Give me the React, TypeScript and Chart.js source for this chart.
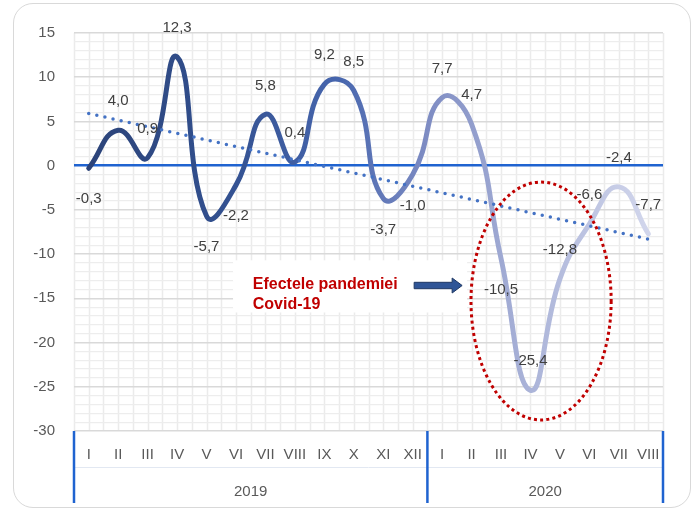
import React, { useEffect, useRef } from "react";
import { Chart, registerables } from "chart.js";

Chart.register(...registerables);

// ---------- data ----------
const months = ["I", "II", "III", "IV", "V", "VI", "VII", "VIII", "IX", "X", "XI", "XII", "I", "II", "III", "IV", "V", "VI", "VII", "VIII"];
const years = ["2019", "2020"];
const monthsPerYear = [12, 8];
const values = [-0.3, 4.0, 0.9, 12.3, -5.7, -2.2, 5.8, 0.4, 9.2, 8.5, -3.7, -1.0, 7.7, 4.7, -10.5, -25.4, -12.8, -6.6, -2.4, -7.7];
const labelBelow = [true, false, false, false, true, true, false, false, false, false, true, true, false, false, true, false, false, false, false, false];
const trendStart = 5.9;
const trendEnd = -8.3;
const yMin = -30;
const yMax = 15;
const yMajorStep = 5;
const calloutLines = ["Efectele pandemiei", "Covid-19"];

// ---------- annotation placement (data coordinates) ----------
const ellipseAnn = { cx: 15.36, cy: -15.3, rx: 2.38, ry: 13.45 };
const boxAnn = { x0: 4.9, x1: 12.85, y0: -10.7, y1: -16.6 };
const textAnn = { x: 5.57, y1: -13.4, y2: -15.7 };
const arrowAnn = { x0: 11.05, x1: 12.68, y: -13.55 };

const fmt = (v: number) => v.toFixed(1).replace(".", ",");
const FONT = "'Liberation Sans', Arial, sans-serif";

const decorPlugin = {
  id: "decor",
  beforeDraw(chart: any) {
    const { ctx, chartArea: a, scales } = chart;
    const x = scales.x;
    ctx.save();
    ctx.strokeStyle = "#EBEBEB";
    ctx.lineWidth = 1.5;
    for (let k = 0; k <= months.length * 2; k++) {
      const px = Math.round(x.getPixelForValue(k / 2 - 0.5)) + 0.5;
      ctx.beginPath();
      ctx.moveTo(px, a.top);
      ctx.lineTo(px, a.bottom);
      ctx.stroke();
    }
    ctx.restore();
  },
  afterDatasetsDraw(chart: any) {
    const { ctx, chartArea: a, scales } = chart;
    const x = scales.x;
    const y = scales.y;
    ctx.save();

    // x-axis separators and year labels
    ctx.strokeStyle = "#E2E8F2";
    ctx.lineWidth = 1;
    ctx.beginPath();
    ctx.moveTo(a.left, 467.5);
    ctx.lineTo(a.right, 467.5);
    ctx.stroke();

    ctx.strokeStyle = "#1F63D0";
    ctx.lineWidth = 2.5;
    let start = 0;
    const bounds = [-0.5];
    monthsPerYear.forEach((n) => {
      start += n;
      bounds.push(start - 0.5);
    });
    bounds.forEach((b) => {
      const px = x.getPixelForValue(b);
      ctx.beginPath();
      ctx.moveTo(px, a.bottom);
      ctx.lineTo(px, a.bottom + 72);
      ctx.stroke();
    });
    ctx.fillStyle = "#595959";
    ctx.font = `15px ${FONT}`;
    ctx.textAlign = "center";
    ctx.textBaseline = "middle";
    years.forEach((yr, i) => {
      const cx = (x.getPixelForValue(bounds[i]) + x.getPixelForValue(bounds[i + 1])) / 2;
      ctx.fillText(yr, cx, a.bottom + 61);
    });

    // callout box
    const bx0 = x.getPixelForValue(boxAnn.x0);
    const bx1 = x.getPixelForValue(boxAnn.x1);
    const by0 = y.getPixelForValue(boxAnn.y0);
    const by1 = y.getPixelForValue(boxAnn.y1);
    ctx.fillStyle = "#FFFFFF";
    ctx.fillRect(bx0, by0, bx1 - bx0, by1 - by0);
    ctx.fillStyle = "#C00000";
    ctx.font = `bold 16px ${FONT}`;
    ctx.textAlign = "left";
    ctx.fillText(calloutLines[0], x.getPixelForValue(textAnn.x), y.getPixelForValue(textAnn.y1));
    ctx.fillText(calloutLines[1], x.getPixelForValue(textAnn.x), y.getPixelForValue(textAnn.y2));

    // arrow
    const ax0 = x.getPixelForValue(arrowAnn.x0);
    const ax1 = x.getPixelForValue(arrowAnn.x1);
    const ay = y.getPixelForValue(arrowAnn.y);
    const head = 10;
    ctx.beginPath();
    ctx.moveTo(ax0, ay - 3.2);
    ctx.lineTo(ax1 - head, ay - 3.2);
    ctx.lineTo(ax1 - head, ay - 7.5);
    ctx.lineTo(ax1, ay);
    ctx.lineTo(ax1 - head, ay + 7.5);
    ctx.lineTo(ax1 - head, ay + 3.2);
    ctx.lineTo(ax0, ay + 3.2);
    ctx.closePath();
    ctx.fillStyle = "#2F5597";
    ctx.fill();
    ctx.strokeStyle = "#1F3864";
    ctx.lineWidth = 1;
    ctx.stroke();

    // red dotted ellipse
    const ecx = x.getPixelForValue(ellipseAnn.cx);
    const ecy = y.getPixelForValue(ellipseAnn.cy);
    const erx = x.getPixelForValue(ellipseAnn.cx + ellipseAnn.rx) - ecx;
    const ery = y.getPixelForValue(ellipseAnn.cy - ellipseAnn.ry) - ecy;
    ctx.beginPath();
    ctx.ellipse(ecx, ecy, erx, ery, 0, 0, Math.PI * 2);
    ctx.strokeStyle = "#C00000";
    ctx.lineWidth = 3;
    ctx.setLineDash([3, 3.2]);
    ctx.stroke();
    ctx.setLineDash([]);

    // data labels
    const meta = chart.getDatasetMeta(0);
    ctx.fillStyle = "#404040";
    ctx.font = `15px ${FONT}`;
    ctx.textAlign = "center";
    ctx.textBaseline = "middle";
    meta.data.forEach((pt: any, i: number) => {
      const dy = labelBelow[i] ? 31 : -29;
      ctx.fillText(fmt(values[i]), pt.x, pt.y + dy);
    });
    ctx.restore();
  },
};

export default function App() {
  const ref = useRef<HTMLCanvasElement>(null);

  useEffect(() => {
    document.body.style.margin = "0";
    const canvas = ref.current;
    if (!canvas) return;
    const last = values.length - 1;
    const trend = values.map((_, i) => (i === 0 ? trendStart : i === last ? trendEnd : null));

    const chart = new Chart(canvas, {
      type: "line",
      data: {
        labels: months,
        datasets: [
          {
            data: values,
            borderWidth: 5,
            tension: 0.48,
            pointRadius: 0,
            borderCapStyle: "round",
            borderJoinStyle: "round",
            borderColor: (c: any) => {
              const a = c.chart.chartArea;
              if (!a) return "#2F4C8C";
              const g = c.chart.ctx.createLinearGradient(a.left, 0, a.right, 0);
              g.addColorStop(0, "#2B4277");
              g.addColorStop(0.25, "#32508F");
              g.addColorStop(0.45, "#4766AE");
              g.addColorStop(0.6, "#7E8CC3");
              g.addColorStop(0.77, "#AAB3D8");
              g.addColorStop(1, "#D6DAEE");
              return g;
            },
            order: 1,
          },
          {
            data: trend,
            spanGaps: true,
            tension: 0,
            borderWidth: 3.5,
            borderColor: "#4472C4",
            borderDash: [0, 8.3],
            borderCapStyle: "round",
            pointRadius: 0,
            order: 0,
          },
        ],
      },
      options: {
        animation: false,
        responsive: false,
        layout: { padding: { top: 33, right: 31, left: 0, bottom: 0 } },
        plugins: { legend: { display: false }, tooltip: { enabled: false } },
        scales: {
          x: {
            type: "category",
            offset: true,
            grid: { display: false, drawTicks: false },
            border: { display: false },
            ticks: {
              autoSkip: false,
              maxRotation: 0,
              color: "#595959",
              font: { family: FONT, size: 15 },
              padding: 15,
            },
            afterFit: (s: any) => {
              s.height = 80;
            },
          },
          y: {
            min: yMin,
            max: yMax,
            border: { display: false },
            grid: {
              drawTicks: false,
              color: (c: any) => (c.tick.value === 0 ? "#1F63D0" : c.tick.value % yMajorStep === 0 ? "#D9D9D9" : "#EDEDED"),
              lineWidth: (c: any) => (c.tick.value === 0 ? 2.5 : c.tick.value % yMajorStep === 0 ? 1.5 : 1.2),
            },
            ticks: {
              stepSize: 1,
              autoSkip: false,
              maxTicksLimit: 200,
              padding: 19,
              color: "#595959",
              font: { family: FONT, size: 15 },
              callback: (v: any) => (Number(v) % yMajorStep === 0 ? String(v) : ""),
            },
            afterFit: (s: any) => {
              s.width = 74;
            },
          },
        },
      },
      plugins: [decorPlugin],
    });
    return () => chart.destroy();
  }, []);

  return (
    <div style={{ position: "absolute", left: 0, top: 0, width: 694, height: 511, background: "#FFFFFF" }}>
      <div
        style={{
          position: "absolute",
          left: 13,
          top: 3,
          width: 678,
          height: 505,
          border: "1.5px solid #D9D9D9",
          borderRadius: 20,
          boxSizing: "border-box",
        }}
      />
      <canvas ref={ref} width={694} height={511} style={{ position: "absolute", left: 0, top: 0 }} />
    </div>
  );
}
